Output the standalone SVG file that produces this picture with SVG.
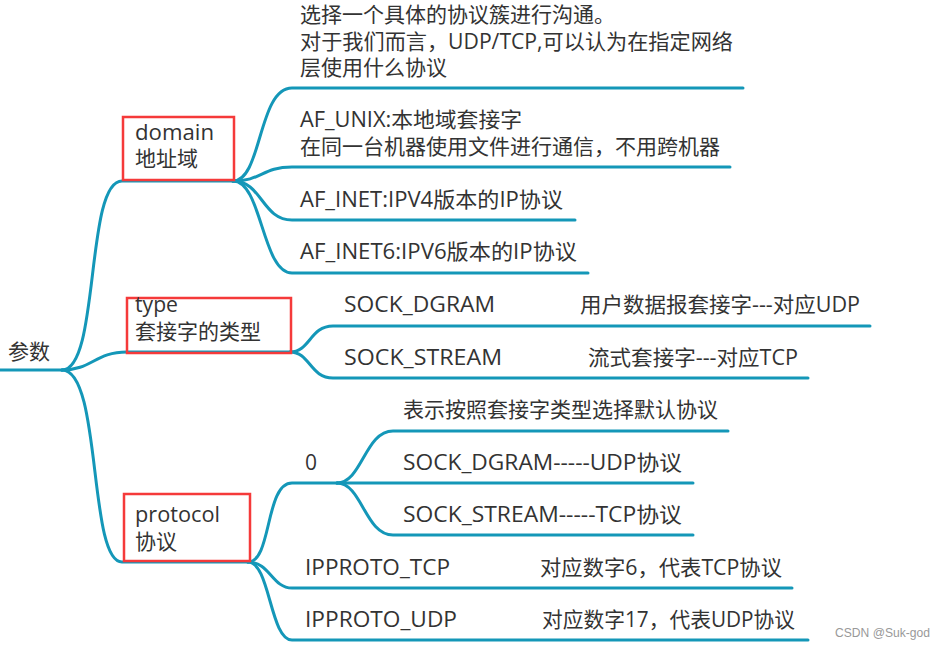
<svg xmlns="http://www.w3.org/2000/svg" width="945" height="648" viewBox="0 0 945 648">
<style>
.c{fill:none;stroke:#1497b8;stroke-width:3;stroke-linecap:round}
.t{font-family:"Open Sans","Noto Sans CJK SC",sans-serif;font-size:21px;fill:#333}
.box{fill:none;stroke:#f53a3a;stroke-width:2.5}
.wm{font-family:"Liberation Sans","Noto Sans CJK SC",sans-serif;font-size:13px;fill:#999}
</style>
<rect width="945" height="648" fill="#fff"/>
<g id="connectors">
<path class="c" d="M0,370 H62"/>
<path class="c" d="M62,370 C100,370 85,181 122,181 H233"/>
<path class="c" d="M62,370 C92,370 95,352 127,352 H290"/>
<path class="c" d="M62,370 C102,370 88,562 122,562 H248"/>
<path class="c" d="M233,181 C262,181 258,88 292,88 H743"/>
<path class="c" d="M233,181 C262,181 262,167 292,167 H730"/>
<path class="c" d="M233,181 C262,181 262,220 292,220 H575"/>
<path class="c" d="M233,181 C262,181 262,273 292,273 H588"/>
<path class="c" d="M290,352 C310,352 310,326 333,326 H870"/>
<path class="c" d="M290,352 C310,352 310,378 333,378 H808"/>
<path class="c" d="M248,562 C272,562 265,483 292,483 H337"/>
<path class="c" d="M337,483 C362,483 365,431 393,431 H728"/>
<path class="c" d="M337,483 H693"/>
<path class="c" d="M337,483 C362,483 365,535 393,535 H693"/>
<path class="c" d="M248,562 C270,562 272,588 292,588 H792"/>
<path class="c" d="M248,562 C270,562 270,640 292,640 H808"/>
</g>
<g id="root"><text class="t" x="8" y="359">参数</text></g>
<g id="domain">
<rect class="box" x="123" y="117" width="111" height="63"/>
<text class="t" x="135" y="140" textLength="79" lengthAdjust="spacingAndGlyphs">domain</text>
<text class="t" x="135" y="166">地址域</text>
</g>
<g id="domain-desc">
<text class="t" x="300" y="22">选择一个具体的协议簇进行沟通。</text>
<text class="t" x="300" y="49" textLength="433" lengthAdjust="spacingAndGlyphs">对于我们而言，UDP/TCP,可以认为在指定网络</text>
<text class="t" x="300" y="75">层使用什么协议</text>
</g>
<g id="af-unix">
<text class="t" x="300" y="127" textLength="222" lengthAdjust="spacingAndGlyphs">AF_UNIX:本地域套接字</text>
<text class="t" x="300" y="154">在同一台机器使用文件进行通信，不用跨机器</text>
</g>
<g id="af-inet"><text class="t" x="300" y="207" textLength="263" lengthAdjust="spacingAndGlyphs">AF_INET:IPV4版本的IP协议</text></g>
<g id="af-inet6"><text class="t" x="300" y="259" textLength="277" lengthAdjust="spacingAndGlyphs">AF_INET6:IPV6版本的IP协议</text></g>
<g id="type">
<rect class="box" x="127" y="298" width="164" height="55"/>
<text class="t" x="135" y="312" textLength="43" lengthAdjust="spacingAndGlyphs">type</text>
<text class="t" x="135" y="339">套接字的类型</text>
</g>
<g id="sock-dgram"><text class="t" x="344" y="312" textLength="151" lengthAdjust="spacingAndGlyphs">SOCK_DGRAM</text></g>
<g id="sock-dgram-desc"><text class="t" x="580" y="312" textLength="280" lengthAdjust="spacingAndGlyphs">用户数据报套接字---对应UDP</text></g>
<g id="sock-stream"><text class="t" x="344" y="365" textLength="158" lengthAdjust="spacingAndGlyphs">SOCK_STREAM</text></g>
<g id="sock-stream-desc"><text class="t" x="588" y="365" textLength="210" lengthAdjust="spacingAndGlyphs">流式套接字---对应TCP</text></g>
<g id="protocol">
<rect class="box" x="124" y="494" width="126" height="67"/>
<text class="t" x="135" y="522" textLength="85" lengthAdjust="spacingAndGlyphs">protocol</text>
<text class="t" x="135" y="549">协议</text>
</g>
<g id="zero"><text class="t" x="305" y="470">0</text></g>
<g id="zero-default"><text class="t" x="403" y="417">表示按照套接字类型选择默认协议</text></g>
<g id="zero-dgram"><text class="t" x="403" y="470" textLength="279" lengthAdjust="spacingAndGlyphs">SOCK_DGRAM-----UDP协议</text></g>
<g id="zero-stream"><text class="t" x="403" y="522" textLength="279" lengthAdjust="spacingAndGlyphs">SOCK_STREAM-----TCP协议</text></g>
<g id="ipproto-tcp"><text class="t" x="305" y="575" textLength="145" lengthAdjust="spacingAndGlyphs">IPPROTO_TCP</text></g>
<g id="ipproto-tcp-desc"><text class="t" x="540" y="575" textLength="242" lengthAdjust="spacingAndGlyphs">对应数字6，代表TCP协议</text></g>
<g id="ipproto-udp"><text class="t" x="305" y="627" textLength="152" lengthAdjust="spacingAndGlyphs">IPPROTO_UDP</text></g>
<g id="ipproto-udp-desc"><text class="t" x="542" y="627" textLength="253" lengthAdjust="spacingAndGlyphs">对应数字17，代表UDP协议</text></g>
<text class="wm" x="835" y="637" textLength="95" lengthAdjust="spacingAndGlyphs">CSDN @Suk-god</text>
</svg>
